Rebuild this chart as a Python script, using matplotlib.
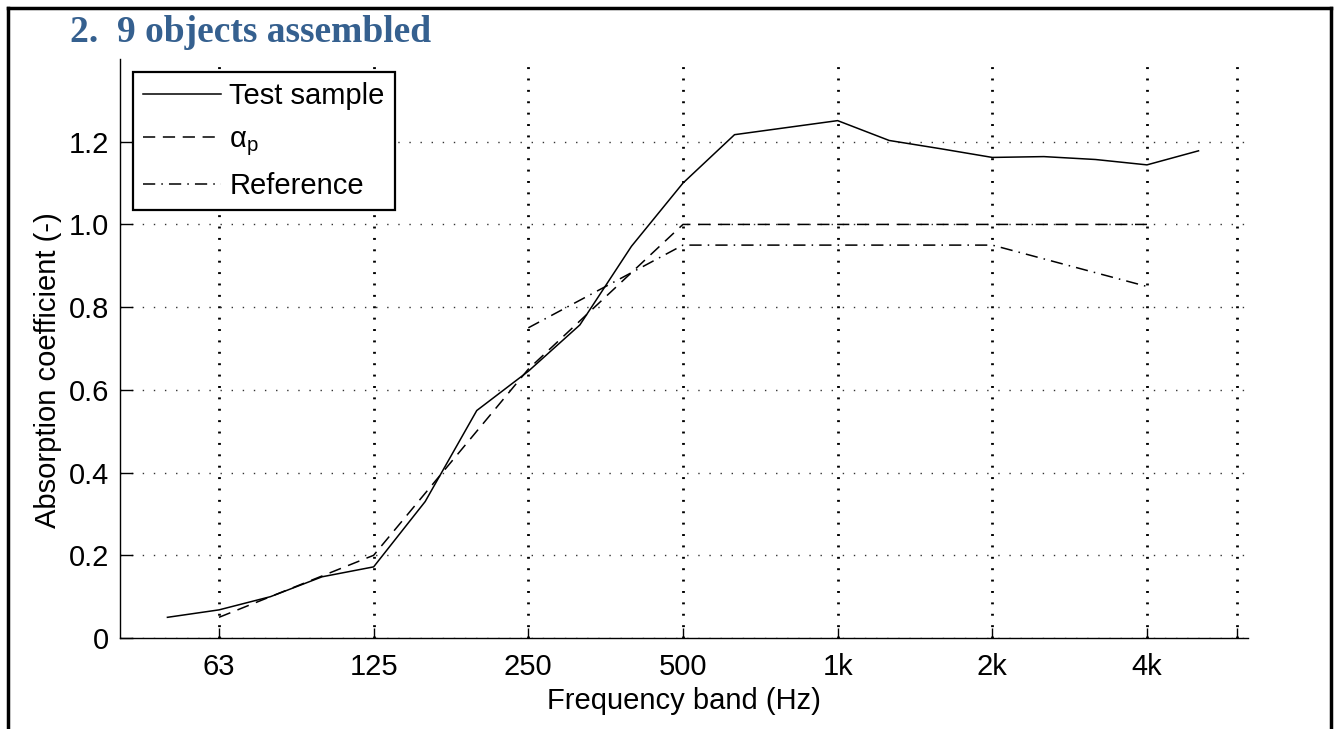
import matplotlib
matplotlib.use("Agg")
import matplotlib.pyplot as plt
from matplotlib.lines import Line2D

# Frequency bands (one-third octave), index: 63 Hz = 0
band_labels = ["50", "63", "80", "100", "125", "160", "200", "250", "315", "400", "500",
               "630", "800", "1k", "1.25k", "1.6k", "2k", "2.5k", "3.15k", "4k", "5k"]
band_index = list(range(-1, 20))
test_sample = [0.05, 0.068, 0.10, 0.148, 0.172, 0.33, 0.55, 0.645, 0.757, 0.947, 1.10,
               1.217, 1.234, 1.251, 1.203, 1.183, 1.162, 1.164, 1.157, 1.144, 1.178]

octave_labels = ["63", "125", "250", "500", "1k", "2k", "4k"]
octave_index = [0, 3, 6, 9, 12, 15, 18]
alpha_p = [0.05, 0.20, 0.65, 1.00, 1.00, 1.00, 1.00]

ref_index = [6, 9, 12, 15, 18]
reference = [0.75, 0.95, 0.95, 0.95, 0.85]

yticks = [0, 0.2, 0.4, 0.6, 0.8, 1.0, 1.2]
ytick_labels = ["0", "0.2", "0.4", "0.6", "0.8", "1.0", "1.2"]

plt.rcParams['font.family'] = ['Liberation Sans', 'DejaVu Sans']
plt.rcParams['mathtext.fontset'] = 'custom'
plt.rcParams['mathtext.rm'] = 'Liberation Sans'
plt.rcParams['mathtext.it'] = 'Liberation Sans:italic'

FS = 21

fig = plt.figure(figsize=(13.38, 7.29), dpi=100)
ax = fig.add_axes([120/1338, 1-638/729, (1248-120)/1338, (638-59)/729])

lw = 1.1
ax.plot(band_index, test_sample, color='black', lw=lw, linestyle='-', label='Test sample')
ax.plot(octave_index, alpha_p, color='black', lw=lw, linestyle=(0, (8, 5)), label='α$_{\\mathrm{p}}$')
ax.plot(ref_index, reference, color='black', lw=lw, linestyle=(0, (8, 4, 1, 4)), label='Reference')

ax.set_xlim(-1.92, 19.96)
ax.set_ylim(0, 1.4)

extra = 19.75
ax.set_xticks(octave_index + [extra])
ax.set_xticklabels(octave_labels + [""])
ax.set_yticks(yticks)
ax.set_yticklabels(ytick_labels)

ax.tick_params(axis='both', direction='in', length=7, width=1.0, labelsize=FS, colors='black')
ax.tick_params(axis='x', pad=11)
ax.tick_params(axis='y', length=9, pad=8)

ax.xaxis.grid(True, linestyle=(0, (0.7, 3.4)), color='black', lw=2.0)
ax.yaxis.grid(True, linestyle=(0, (1, 7)), color='#333333', lw=1.0)
ax.spines['top'].set_visible(False)
ax.spines['right'].set_visible(False)
ax.spines['left'].set_linewidth(1.0)
ax.spines['bottom'].set_linewidth(1.0)

ax.set_xlabel("Frequency band (Hz)", fontsize=FS, labelpad=4)
ax.set_ylabel("Absorption coefficient (-)", fontsize=FS)
ax.yaxis.set_label_coords((62-120)/1128, (638-370)/579)

leg = ax.legend(loc='upper left', bbox_to_anchor=((133-120)/1128, 1-(72-59)/579),
                fontsize=FS, frameon=True, fancybox=False, edgecolor='black',
                handlelength=2.65, handletextpad=0.3, borderpad=0.35, labelspacing=0.5,
                borderaxespad=0)
leg.get_frame().set_linewidth(1.6)
leg.get_frame().set_alpha(1)

fig.text(70/1338, 1-33/729, "2.  9 objects assembled", fontsize=27, fontweight='bold',
         family='Liberation Serif', color='#35608f', va='center', ha='left')

# page border
fig.add_artist(Line2D([8/1338, 8/1338], [0, 1-8/729], color='black', lw=2.5, transform=fig.transFigure))
fig.add_artist(Line2D([8/1338, 1331/1338], [1-8/729, 1-8/729], color='black', lw=2.5, transform=fig.transFigure))
fig.add_artist(Line2D([1331/1338, 1331/1338], [0, 1-8/729], color='black', lw=2.5, transform=fig.transFigure))

fig.savefig("out.png", dpi=100)
